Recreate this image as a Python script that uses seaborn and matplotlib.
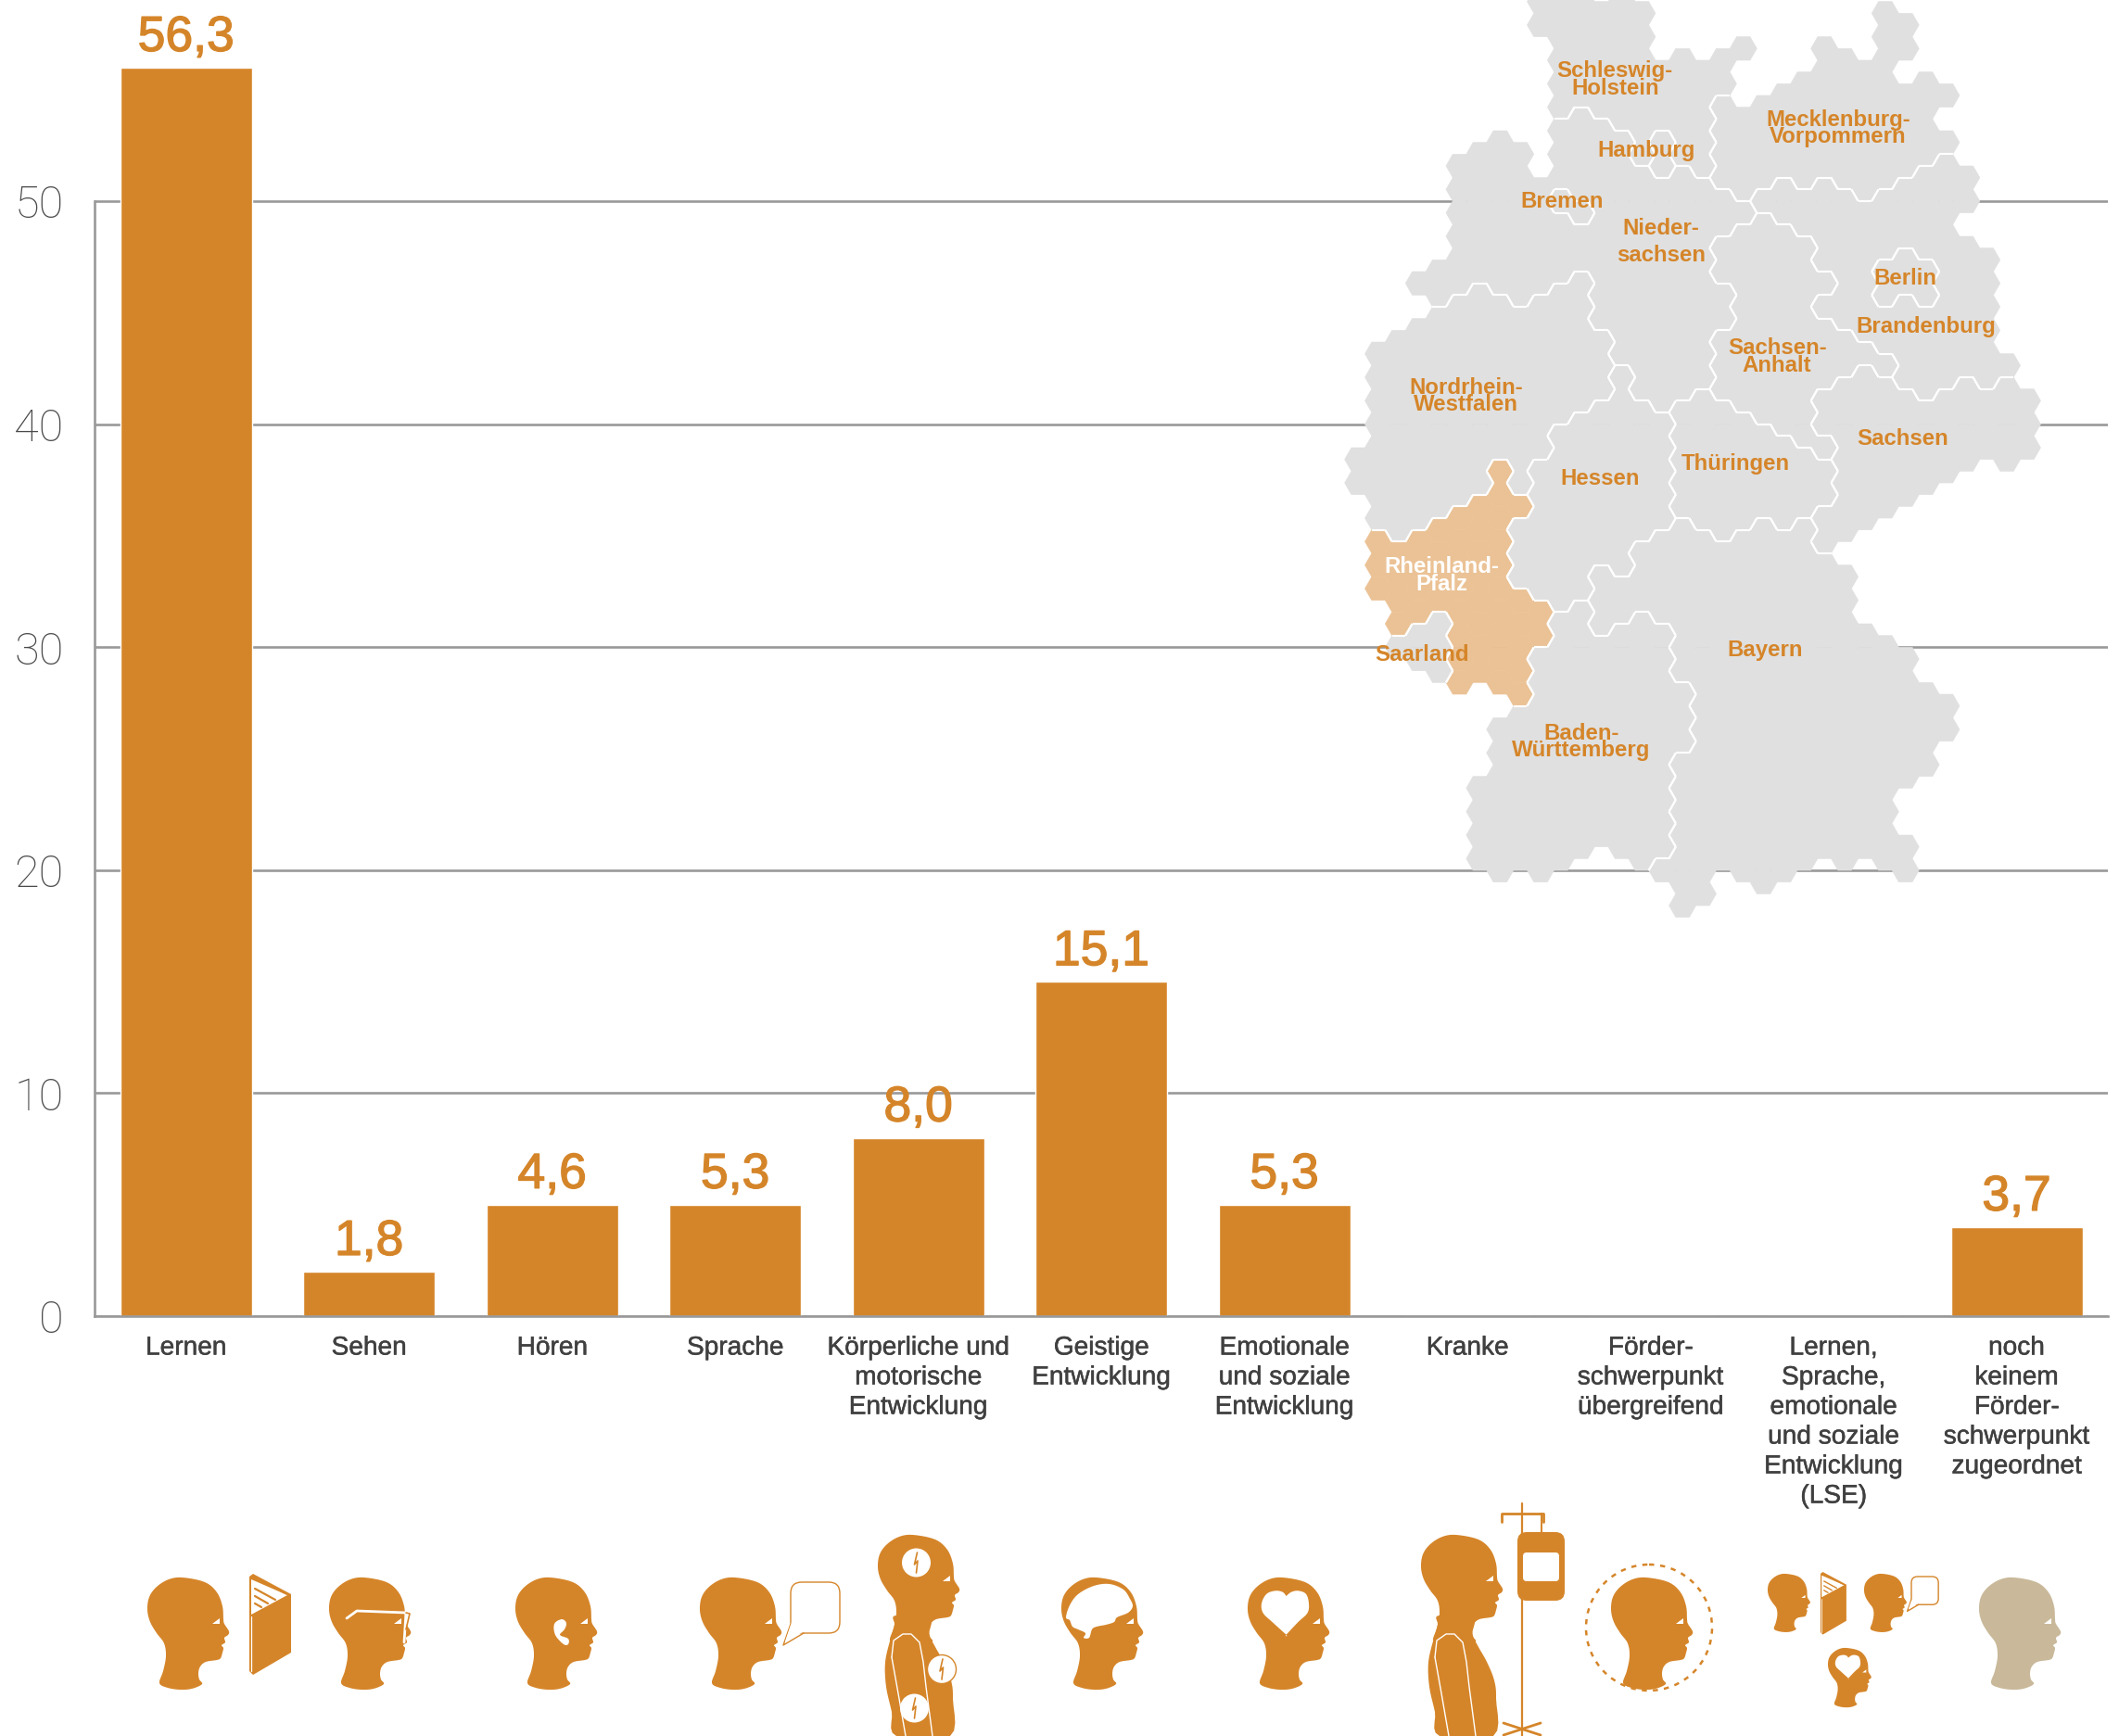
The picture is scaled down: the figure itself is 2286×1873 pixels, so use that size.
import numpy as np
import matplotlib
matplotlib.use("Agg")
import matplotlib.pyplot as plt
import matplotlib.patheffects as pe
import matplotlib.transforms as mtrans
import seaborn as sns
from matplotlib.collections import PolyCollection, LineCollection
from matplotlib.patches import Polygon, Ellipse, FancyBboxPatch, Circle

# Werte
categories = ["Lernen", "Sehen", "Hören", "Sprache", "Körperliche und\nmotorische\nEntwicklung",
              "Geistige\nEntwicklung", "Emotionale\nund soziale\nEntwicklung", "Kranke",
              "Förder-\nschwerpunkt\nübergreifend",
              "Lernen,\nSprache,\nemotionale\nund soziale\nEntwicklung\n(LSE)",
              "noch\nkeinem\nFörder-\nschwerpunkt\nzugeordnet"]
bar_heights = [56, 2, 5, 5, 8, 15, 5, 0, 0, 0, 4]
value_labels = ["56,3", "1,8", "4,6", "5,3", "8,0", "15,1", "5,3", "", "", "", "3,7"]
y_ticks = [0, 10, 20, 30, 40, 50]

# Hexkarte: Spalte -> (erste Zeile, letzte Zeile)
schleswig_holstein = {9: [(-1, 1)], 10: [(-2, 8)], 11: [(-1, 7)], 12: [(0, 8)], 13: [(-1, 9)], 14: [(0, 12)],
                      15: [(5, 9)], 16: [(4, 12)], 17: [(5, 13)], 18: [(4, 6)], 19: [(3, 3)]}
hamburg = {15: [(11, 13)]}
bremen = {10: [(16, 16)], 11: [(17, 17)]}
mecklenburg = {18: [(8, 14)], 19: [(9, 15)], 20: [(8, 14)], 21: [(7, 13)], 22: [(6, 14)], 23: [(3, 13)],
               24: [(4, 14)], 25: [(5, 15)], 26: [(0, 14)], 27: [(1, 3), (7, 13)], 28: [(6, 12)],
               29: [(7, 7), (11, 11)]}
niedersachsen = {3: [(23, 23)], 4: [(22, 24)], 5: [(13, 23)], 6: [(12, 22)], 7: [(11, 23)], 8: [(12, 24)],
                 9: [(15, 23)], 10: [(10, 14), (18, 22)], 11: [(9, 15), (19, 21)], 12: [(10, 26)],
                 13: [(11, 29)], 14: [(14, 32)], 15: [(15, 33)], 16: [(14, 32)], 17: [(15, 31)],
                 18: [(16, 18), (24, 26)], 19: [(17, 17)]}
sachsen_anhalt = {18: [(20, 22), (28, 32)], 19: [(19, 33)], 20: [(18, 34)], 21: [(19, 35)], 22: [(20, 36)],
                  23: [(23, 23), (27, 31), (37, 37)], 24: [(28, 30)], 25: [(29, 29)], 26: [(30, 30)]}
brandenburg = {20: [(16, 16)], 21: [(15, 17)], 22: [(16, 18)], 23: [(15, 21), (25, 25)], 24: [(16, 26)],
               25: [(17, 27)], 26: [(16, 20), (26, 28)], 27: [(15, 19), (25, 31)], 28: [(14, 20), (26, 32)],
               29: [(13, 31)], 30: [(14, 16), (20, 30)], 31: [(21, 31)], 32: [(30, 30)]}
berlin = {26: [(22, 24)], 27: [(21, 23)], 28: [(22, 24)]}
sachsen = {23: [(33, 35), (43, 45)], 24: [(32, 44)], 25: [(31, 43)], 26: [(32, 42)], 27: [(33, 41)],
           28: [(34, 40)], 29: [(33, 39)], 30: [(32, 38)], 31: [(33, 37)], 32: [(32, 38)], 33: [(33, 37)]}
thueringen = {16: [(34, 42)], 17: [(33, 43)], 18: [(34, 44)], 19: [(35, 43)], 20: [(36, 42)], 21: [(37, 43)],
              22: [(38, 42)], 23: [(39, 41)]}
hessen = {8: [(44, 48)], 9: [(39, 49)], 10: [(36, 50)], 11: [(35, 49)], 12: [(34, 46)], 13: [(31, 47)],
          14: [(34, 44)], 15: [(35, 43)]}
nordrhein_westfalen = {0: [(38, 40)], 1: [(29, 43)], 2: [(28, 44)], 3: [(27, 43)], 4: [(26, 42)], 5: [(25, 41)],
                       6: [(24, 40)], 7: [(25, 37)], 8: [(26, 40)], 9: [(25, 37)], 10: [(24, 34)],
                       11: [(23, 33)], 12: [(28, 32)]}
rheinland_pfalz = {1: [(45, 49)], 2: [(46, 52)], 3: [(45, 51)], 4: [(44, 50)], 5: [(43, 57)], 6: [(42, 56)],
                   7: [(39, 57)], 8: [(42, 42), (50, 58)], 9: [(51, 53)]}
saarland = {2: [(54, 54)], 3: [(53, 55)], 4: [(52, 56)]}
baden_wuerttemberg = {6: [(66, 72)], 7: [(61, 73)], 8: [(60, 72)], 9: [(55, 73)], 10: [(52, 72)], 11: [(51, 71)],
                      12: [(54, 70)], 13: [(53, 71)], 14: [(52, 72)], 15: [(53, 71)], 16: [(58, 62)]}
bayern = {12: [(48, 52)], 13: [(49, 51)], 14: [(46, 50)], 15: [(45, 51), (73, 73)], 16: [(44, 56), (64, 76)],
          17: [(45, 75)], 18: [(46, 72)], 19: [(45, 73)], 20: [(44, 74)], 21: [(45, 73)], 22: [(44, 72)],
          23: [(47, 71)], 24: [(48, 72)], 25: [(53, 71)], 26: [(54, 72)], 27: [(55, 65), (71, 73)],
          28: [(58, 64)], 29: [(59, 61)]}
states = [schleswig_holstein, hamburg, bremen, mecklenburg, niedersachsen, sachsen_anhalt, brandenburg, berlin,
          sachsen, thueringen, hessen, nordrhein_westfalen, rheinland_pfalz, saarland, baden_wuerttemberg, bayern]

map_labels = [("Schleswig-\nHolstein", 1195, 59), ("Hamburg", 1218, 111.5), ("Mecklenburg-\nVorpommern", 1360, 95),
              ("Bremen", 1156, 149), ("Nieder-", 1229, 169), ("sachsen", 1229, 189), ("Berlin", 1410, 206),
              ("Brandenburg", 1425, 241.5), ("Sachsen-\nAnhalt", 1315, 264), ("Nordrhein-\nWestfalen", 1085, 293),
              ("Sachsen", 1408, 324.5), ("Thüringen", 1284, 343), ("Hessen", 1184, 354), ("Saarland", 1052, 484.5),
              ("Bayern", 1306, 481), ("Baden-\nWürttemberg", 1170, 549)]

ORANGE = "#d58529"
GREY = "#e0e0e0"
RP = "#ebc295"
BEIGE = "#c9b99a"
LINE = "#999999"
W, H = 2286, 1873
S = W / 1568  # verkleinerte Koordinaten -> Pixel

sns.set_theme(style="white")
plt.rcParams["font.family"] = ["Liberation Sans", "DejaVu Sans"]

fig = plt.figure(figsize=(W / 100, H / 100), dpi=100)
ax = fig.add_axes([70 * S / W, 1 - 974 * S / H, 1490 * S / W, 974 * S / H])
sns.barplot(x=categories, y=bar_heights, color=ORANGE, saturation=1, width=0.72, ax=ax, zorder=3)
ax.set_ylim(0, 974 / 16.5)
ax.set_xlim(-0.5, 10.5)
ax.set_yticks(y_ticks)
ax.set_yticklabels([str(t) for t in y_ticks], fontsize=35, color="#4a4a4a", family=["Roboto", "Liberation Sans"],
                   fontweight="light", va="center_baseline")
for lab in ax.get_yticklabels():
    lab.set_transform(lab.get_transform() + mtrans.ScaledTranslation(0, 2 / 72, fig.dpi_scale_trans))
ax.yaxis.grid(True, color=LINE, lw=1.9, zorder=0)
ax.set_axisbelow(True)
ax.tick_params(axis="y", length=0, pad=24)
ax.tick_params(axis="x", length=0, pad=15.5)
plt.setp(ax.get_xticklabels(), fontsize=20.2, color="#404040", linespacing=1.3, va="top",
         path_effects=[pe.withStroke(linewidth=0.35, foreground="#404040")])
for side in ["top", "right"]:
    ax.spines[side].set_visible(False)
for side in ["left", "bottom"]:
    ax.spines[side].set_color(LINE)
    ax.spines[side].set_linewidth(1.9)
    ax.spines[side].set_zorder(4)
ax.spines["left"].set_bounds(0, 50)

for i, (h, lab) in enumerate(zip(bar_heights, value_labels)):
    if lab:
        ax.annotate(lab, (i, h), xytext=(0, 23), textcoords="offset points", ha="center", va="center",
                    fontsize=38.5, color=ORANGE, path_effects=[pe.withStroke(linewidth=1.0, foreground=ORANGE)])

# Overlay in Pixelkoordinaten fuer Karte und Piktogramme
ov = fig.add_axes([0, 0, 1, 1], zorder=5)
ov.set_xlim(0, W)
ov.set_ylim(H, 0)
ov.axis("off")
ov.patch.set_alpha(0)

dx = 21.87
dy = 12.667
s = dx / 1.5
X0, Y0 = 1465.2, 14.33


def hex_center(k, n):
    return X0 + dx * k, Y0 + dy * n


def hex_poly(k, n):
    x, y = hex_center(k, n)
    return [(x - s, y), (x - s / 2, y - dy), (x + s / 2, y - dy), (x + s, y), (x + s / 2, y + dy), (x - s / 2, y + dy)]


owner = {}
for sid, st in enumerate(states):
    for k, ranges in st.items():
        for a, b in ranges:
            for n in range(a, b + 1, 2):
                owner[(k, n)] = sid

polys, cols = [], []
for (k, n), sid in owner.items():
    polys.append(hex_poly(k, n))
    cols.append(RP if states[sid] is rheinland_pfalz else GREY)
ov.add_collection(PolyCollection(polys, facecolors=cols, edgecolors=cols, linewidths=0.4, zorder=2))

edges = []
neigh = [((0, -2), 1, 2), ((1, -1), 2, 3), ((1, 1), 3, 4), ((0, 2), 4, 5)]
neigh += [((-1, 1), 5, 0), ((-1, -1), 0, 1)]
for (k, n), sid in owner.items():
    p = hex_poly(k, n)
    for (a, b), i, j in neigh:
        other = owner.get((k + a, n + b))
        if other is not None and other != sid:
            edges.append([p[i], p[j]])
ov.add_collection(LineCollection(edges, colors="white", linewidths=1.5, zorder=3))

for txt, x, y in map_labels:
    ov.text(x * S, y * S, txt, ha="center", va="center", fontsize=17.3, fontweight="bold", color=ORANGE,
            linespacing=0.74, zorder=4)
ov.text(1067 * S, 426 * S, "Rheinland-\nPfalz", ha="center", va="center", fontsize=17.3, fontweight="bold",
        color="white", linespacing=0.74, zorder=4)

# Piktogramme
head_x = [38, 62, 75, 81, 82, 83, 88, 87, 83, 84, 80, 82, 81, 79, 75, 63, 57, 55, 56, 59, 48, 35, 22, 13, 17, 20, 18,
          10, 3, 0, 2, 10, 23]
head_y = [0, 5, 16, 31, 45, 50, 58, 62, 65, 70, 73, 76, 81, 87, 89, 91, 96, 103, 110, 115, 120, 121, 119, 114, 101,
          85, 71, 60, 48, 35, 21, 10, 2]
heart_x = [41.6, 41.6, 26.5, 16.6, 15, 20.4, 30, 37.8, 41.6, 41.6, 47, 54.5, 62.9, 66, 64.5, 54.5]
heart_y = [61.7, 61.7, 48, 38.3, 28, 17.7, 14.3, 15.7, 20, 20, 15.7, 14.3, 17.7, 28, 38.3, 48]
brain_x = [5, 9, 18, 35, 52, 67, 74, 77, 72, 60, 57, 48, 38, 33, 30, 24, 26, 18, 12, 9]
brain_y = [43, 30, 18, 9, 7, 13, 23, 31, 38, 43, 48, 51, 53, 56, 65, 65, 60, 56, 53, 46]
body_x = [55.5, 55.5, 62, 71, 79, 81, 78, 20, 15, 9, 8, 14, 18, 19]
body_y = [90, 107, 121, 137, 157, 177, 217, 217, 191, 164, 137, 111, 97, 87]
arm_x = [15, 17, 27, 36, 45, 49, 52, 59]
arm_y = [132, 114, 107, 107, 116, 137, 164, 217]
arm_in_x = [15, 22, 30]
arm_in_y = [132, 171, 217]


def smooth(px, py, steps=5):
    p = np.column_stack([px, py])
    out = []
    m = len(p)
    for i in range(m):
        p0, p1, p2, p3 = p[i - 1], p[i], p[(i + 1) % m], p[(i + 2) % m]
        for t in np.linspace(0, 1, steps, endpoint=False):
            out.append(0.5 * (2 * p1 + (p2 - p0) * t + (2 * p0 - 5 * p1 + 4 * p2 - p3) * t ** 2
                              + (3 * p1 - p0 - 3 * p2 + p3) * t ** 3))
    return np.array(out)


def place(pts, x, y, sc=1.0):
    return np.asarray(pts) * sc + [x, y]


def head(x, y, sc=1.0, col=ORANGE):
    ov.add_patch(Polygon(place(smooth(head_x, head_y), x, y, sc), closed=True, fc=col, ec="none", zorder=4))
    eye = [(70, 50), (78, 44), (78, 50)]
    ov.add_patch(Polygon(place(eye, x, y, sc), closed=True, fc="white", ec="none", zorder=5))


def heart(x, y, sc=1.0):
    ov.add_patch(Polygon(place(smooth(heart_x, heart_y), x, y, sc), closed=True, fc="white", ec="none", zorder=5))


def bubble(x, y, sc=1.0):
    w, h, r = 53 * sc, 55 * sc, 12 * sc
    ov.add_patch(FancyBboxPatch((x + r, y + r), w - 2 * r, h - 2 * r, boxstyle=f"round,pad={r}", fc="white", ec=ORANGE,
                                lw=1.0, zorder=4))
    ov.plot([x, x - 8 * sc, x + 14 * sc], [y + h - 10 * sc, y + h + 13 * sc, y + h], color=ORANGE, lw=1.0, zorder=4)
    ov.add_patch(Polygon([(x + 1, y + h - 12 * sc), (x - 6 * sc, y + h + 9 * sc), (x + 13 * sc, y + h - 1)],
                         fc="white", ec="none", zorder=5))


def book(x, y, sc=1.0):
    outline = [(0, 3), (4, 0), (45, 22), (45, 85), (4, 109), (0, 105)]
    ov.add_patch(Polygon(place(outline, x, y, sc), fc=ORANGE, ec="none", zorder=4))
    ov.add_patch(Polygon(place([(2, 6), (41, 23), (2, 44)], x, y, sc), fc="white", ec="none", zorder=5))
    for a, b in [((6, 16), (28, 28)), ((6, 24), (20, 32)), ((6, 32), (13, 36))]:
        ov.plot(*place([a, b], x, y, sc).T, color=ORANGE, lw=1.6 * sc, zorder=6)
    ov.plot(*place([(2, 46), (2, 105)], x, y, sc).T, color="white", lw=0.9 * sc, zorder=6)
    ov.plot(*place([(4, 3), (40, 22)], x, y, sc).T, color=ORANGE, lw=1.0 * sc, zorder=6)


def bolt(cx, cy, ring=False):
    ov.add_patch(Ellipse((cx, cy), 31, 31, fc="white", ec=ORANGE if ring else "none", lw=1.0, zorder=5))
    ov.plot([cx + 1, cx - 2, cx + 1.5, cx], [cy - 11, cy + 2, cy - 2, cy + 11], color=ORANGE, lw=1.2, zorder=6)


def body(x, y):
    ov.add_patch(Polygon(place(smooth(body_x, body_y), x, y), fc=ORANGE, ec="none", zorder=4))
    head(x, y)
    ov.plot(*place(np.column_stack([arm_x, arm_y]), x, y).T, color="white", lw=1.0, zorder=5)
    ov.plot(*place(np.column_stack([arm_in_x, arm_in_y]), x, y).T, color="white", lw=1.0, zorder=5)


head(159, 1702)
book(269, 1698)

head(355, 1702)
ov.plot([374, 385, 438, 436], [1746, 1738, 1740, 1772], color="white", lw=2, zorder=6)
ov.plot([438, 442, 438], [1740, 1741, 1758], color=ORANGE, lw=1.2, zorder=6)

head(556, 1702)
ear = smooth([50, 55, 53, 48, 57, 57, 52, 43, 42], [45, 49, 56, 62, 66, 72, 72, 62, 50], 4)
ov.add_patch(Polygon(place(ear, 556, 1702), fc="white", ec="none", zorder=5))

head(755, 1702)
bubble(853, 1707)

body(947, 1656)
bolt(988.5, 1686)
bolt(1016, 1801, ring=True)
bolt(986.5, 1843)

head(1145, 1702)
ov.add_patch(Polygon(place(smooth(brain_x, brain_y), 1145, 1702), fc="white", ec="none", zorder=5))

head(1346, 1702)
heart(1346, 1702)

body(1533, 1656)
ov.plot([1642, 1642], [1622, 1873], color=ORANGE, lw=1.6, zorder=4)
ov.add_patch(FancyBboxPatch((1647, 1663), 31, 54, boxstyle="round,pad=10", fc=ORANGE, ec="none", zorder=4))
ov.add_patch(FancyBboxPatch((1647, 1679), 31, 23, boxstyle="round,pad=4", fc="white", ec="none", zorder=5))
ov.plot([1620, 1620, 1665, 1665], [1642, 1633, 1633, 1642], color=ORANGE, lw=2, zorder=4)
ov.plot([1663, 1663], [1633, 1653], color=ORANGE, lw=1.4, zorder=4)
ov.plot([1622, 1662], [1859, 1872], color=ORANGE, lw=2, zorder=4)
ov.plot([1622, 1662], [1872, 1859], color=ORANGE, lw=2, zorder=4)

head(1738, 1702)
ov.add_patch(Circle((1779, 1756), 68, fc="none", ec=ORANGE, lw=1.8, ls=(0, (2.2, 2.6)), zorder=4))

head(1907, 1698, 0.52)
book(1964, 1696, 0.62)
head(2011, 1698, 0.52)
bubble(2062, 1701, 0.55)
head(1972, 1778, 0.53)
heart(1972, 1778, 0.53)

head(2135, 1702, col=BEIGE)

fig.savefig("out.png", dpi=100)
